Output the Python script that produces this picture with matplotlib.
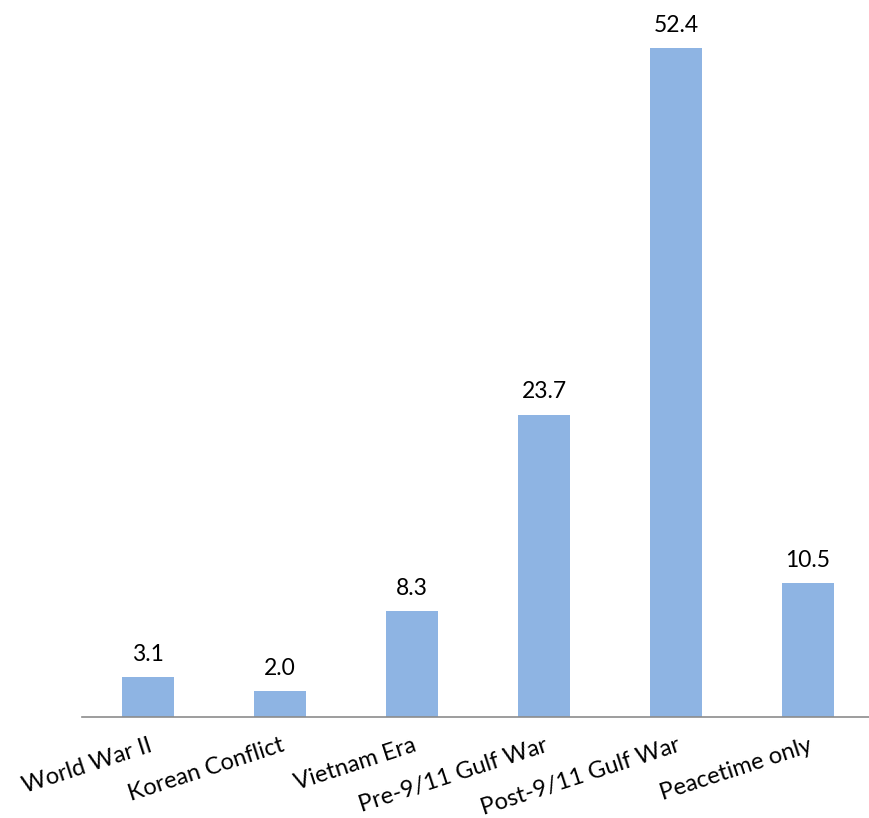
import matplotlib
matplotlib.use("Agg")
import matplotlib.pyplot as plt

categories = ["World War II", "Korean Conflict", "Vietnam Era",
              "Pre-9/11 Gulf War", "Post-9/11 Gulf War", "Peacetime only"]
values = [3.1, 2.0, 8.3, 23.7, 52.4, 10.5]

plt.rcParams["font.family"] = ["Lato", "DejaVu Sans"]

fig = plt.figure(figsize=(8.70, 8.18), dpi=100)
ax = fig.add_axes([82 / 870, 101 / 818, 792 / 870, 717 / 818])

x = range(len(categories))
bars = ax.bar(x, values, width=0.4, color="#8EB4E3", zorder=2)
for xi, v in zip(x, values):
    ax.annotate(f"{v:.1f}", (xi, v), xytext=(0, 9), textcoords="offset points",
                ha="center", va="bottom", fontsize=16.5, color="black")

ax.set_xlim(-0.5, len(categories) - 0.5)
ax.set_ylim(0, 56.2)
ax.set_yticks([])
ax.set_xticks(list(x))
ax.set_xticklabels(categories, rotation=18, ha="right", rotation_mode="anchor",
                   fontsize=17)
ax.tick_params(axis="x", length=0, pad=13)
for side in ("top", "right", "left"):
    ax.spines[side].set_visible(False)
ax.spines["bottom"].set_color("#8C8C8C")
ax.spines["bottom"].set_linewidth(1.2)

fig.savefig("out.png", dpi=100)
